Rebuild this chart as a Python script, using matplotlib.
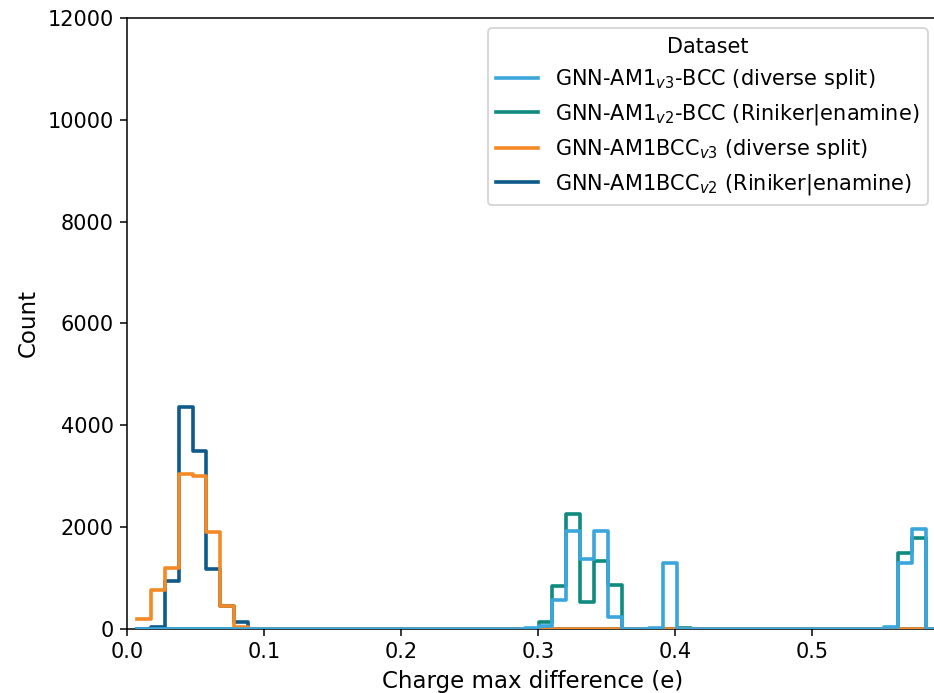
import numpy as np
import matplotlib
matplotlib.use("Agg")
import matplotlib.pyplot as plt

# shared histogram bins (max charge difference, e)
bin_lo = 0.0075
bin_w = 0.0101
n_bins = 59

# nonzero bin counts for each model: {bin index: count}
am1_v3_diverse = {28: 20, 29: 60, 30: 568, 31: 1927, 32: 1372, 33: 1927, 34: 241,
                  37: 25, 38: 1300, 54: 40, 55: 1290, 56: 1960}
am1_v2_riniker = {29: 143, 30: 843, 31: 2267, 32: 523, 33: 1333, 34: 856,
                  39: 25, 55: 1483, 56: 1777}
am1bcc_v3_diverse = {0: 190, 1: 760, 2: 1200, 3: 3040, 4: 3010, 5: 1910, 6: 457, 7: 45}
am1bcc_v2_riniker = {1: 45, 2: 935, 3: 4357, 4: 3495, 5: 1176, 6: 460, 7: 143}

labels = [
    r"GNN-AM1$_{v3}$-BCC (diverse split)",
    r"GNN-AM1$_{v2}$-BCC (Riniker|enamine)",
    r"GNN-AM1BCC$_{v3}$ (diverse split)",
    r"GNN-AM1BCC$_{v2}$ (Riniker|enamine)",
]
colors = ["#3aa6dc", "#0f8a7e", "#f38a26", "#0e5a8a"]
zorders = [4, 1, 3, 2]
series = [am1_v3_diverse, am1_v2_riniker, am1bcc_v3_diverse, am1bcc_v2_riniker]

edges = bin_lo + bin_w * np.arange(n_bins + 1)


def expand(d):
    c = np.zeros(n_bins)
    for k, v in d.items():
        c[k] = v
    return c


fig = plt.figure(figsize=(934 / 137, 693 / 137), dpi=137)
ax = fig.add_axes([0.136, 0.0924, 0.8683, 0.8816])

handles = []
for d, lab, col, z in zip(series, labels, colors, zorders):
    c = expand(d)
    h, = ax.plot(edges, np.append(c, c[-1]), drawstyle="steps-post",
                 color=col, lw=1.9, label=lab, zorder=z)
    handles.append(h)

ax.set_xlim(0, 0.592)
ax.set_ylim(0, 12000)
ax.set_xticks([0.0, 0.1, 0.2, 0.3, 0.4, 0.5])
ax.tick_params(labelsize=11)
ax.set_xlabel("Charge max difference (e)", fontsize=12)
ax.set_ylabel("Count", fontsize=12)
ax.legend(handles=handles, title="Dataset", loc="upper right",
          fontsize=11, title_fontsize=11)

fig.savefig("out.png", dpi=137)
